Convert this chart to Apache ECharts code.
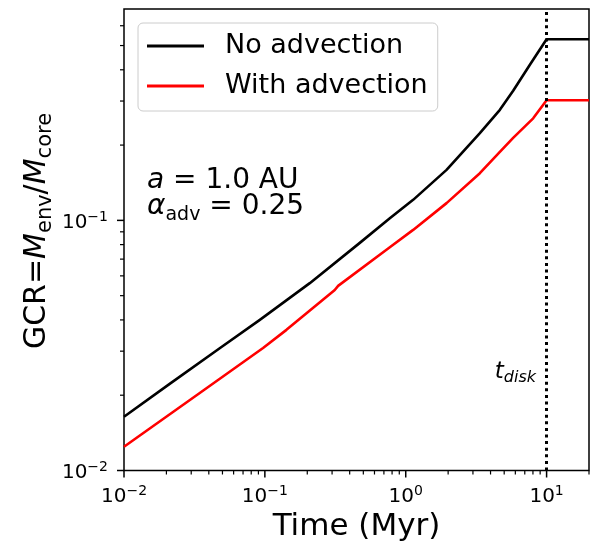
<!DOCTYPE html>
<html><head><meta charset="utf-8">
<script src="https://cdn.jsdelivr.net/npm/echarts@6/dist/echarts.min.js"></script>
<style>html,body{margin:0;padding:0;background:#fff}#c{width:603px;height:554px}</style>
</head><body><div id="c"></div>
<script>
// ---- data ----
const seriesNames = ['No advection', 'With advection'];
const timeNoAdv = [0.01, 0.0211, 0.0478, 0.0921, 0.2084, 0.472, 0.771, 1.129, 1.949, 3.36, 4.66, 5.79, 7.61, 10, 20];
const gcrNoAdv  = [0.0164, 0.0222, 0.0308, 0.0400, 0.0561, 0.0813, 0.102, 0.1208, 0.1592, 0.2233, 0.2767, 0.3296, 0.4188, 0.530, 0.530];
const timeAdv = [0.01, 0.0345, 0.0971, 0.1423, 0.3135, 0.3311, 0.771, 1.129, 1.949, 3.36, 4.66, 5.79, 8.03, 10, 20];
const gcrAdv  = [0.01245, 0.0204, 0.0309, 0.0365, 0.0527, 0.0547, 0.0781, 0.0916, 0.1172, 0.1544, 0.1880, 0.2138, 0.2559, 0.302, 0.302];
const tDisk = 10;
const xRange = [0.01, 20];
const yRange = [0.01, 0.7];
const xMajorTicks = [0.01, 0.1, 1, 10];
const xMinorTicks = [0.02,0.03,0.04,0.05,0.06,0.07,0.08,0.09,0.2,0.3,0.4,0.5,0.6,0.7,0.8,0.9,2,3,4,5,6,7,8,9,20];
const yMajorTicks = [0.01, 0.1];
const yMinorTicks = [0.02,0.03,0.04,0.05,0.06,0.07,0.08,0.09,0.2,0.3,0.4,0.5,0.6];

const FONT = 'DejaVu Sans';
function pow10Label(v) {
  const l = Math.log10(v);
  const e = Math.round(l);
  if (Math.abs(l - e) > 1e-6) return '';
  return '{b|10}{s|' + (e < 0 ? '\u2212' : '') + Math.abs(e) + '}';
}
const tickRich = {
  b: {fontSize: 20, fontFamily: FONT, color: '#000', lineHeight: 25},
  s: {fontSize: 14, fontFamily: FONT, color: '#000', verticalAlign: 'top'}
};
function tickSeries(values, dir, len, w) {
  return {
    type: 'custom', silent: true, clip: false, z: 10,
    data: values.map(v => dir === 'x' ? [v, yRange[0]] : [xRange[0], v]),
    renderItem(params, api) {
      const p = api.coord([api.value(0), api.value(1)]);
      const shape = dir === 'x'
        ? {x1: p[0], y1: p[1], x2: p[0], y2: p[1] + len}
        : {x1: p[0], y1: p[1], x2: p[0] - len, y2: p[1]};
      return {type: 'line', shape, style: {stroke: '#000', lineWidth: w}};
    }
  };
}

const chart = echarts.init(document.getElementById('c'), null, {renderer: 'canvas'});
chart.setOption({
  animation: false,
  backgroundColor: '#fff',
  grid: {left: 124, right: 14, top: 9, bottom: 83.5, show: true, borderColor: '#000', borderWidth: 1.5,
         backgroundColor: 'transparent', outerBoundsMode: 'none', containLabel: false},
  xAxis: {
    type: 'log', logBase: 10, min: xRange[0], max: xRange[1],
    axisLine: {show: false}, axisTick: {show: false}, splitLine: {show: false}, minorTick: {show: false},
    axisLabel: {margin: 14, formatter: pow10Label, rich: tickRich, showMinLabel: true, showMaxLabel: true, hideOverlap: false},
    name: 'Time (Myr)', nameLocation: 'middle', nameGap: 33,
    nameTextStyle: {fontSize: 31, fontFamily: FONT, color: '#000'}
  },
  yAxis: {
    type: 'log', logBase: 10, min: yRange[0], max: yRange[1],
    axisLine: {show: false}, axisTick: {show: false}, splitLine: {show: false}, minorTick: {show: false},
    axisLabel: {margin: 16, padding: [5, 0, 0, 0], formatter: pow10Label, rich: tickRich, showMinLabel: true, showMaxLabel: true}
  },
  legend: {
    orient: 'vertical', left: 138, top: 23,
    data: seriesNames.map(n => ({name: n, icon: 'rect'})),
    itemWidth: 57, itemHeight: 3, itemGap: 10,
    padding: [8, 10, 10, 9],
    borderColor: '#cccccc', borderWidth: 1, borderRadius: 5, backgroundColor: 'rgba(255,255,255,0.8)',
    textStyle: {fontSize: 27, fontFamily: FONT, color: '#000', lineHeight: 30, padding: [0, 0, 0, 16]}
  },
  graphic: [
    {type: 'text', x: 37, y: 231, rotation: Math.PI / 2, z: 20,
     style: {
       text: '{n|GCR=}{i|M}{s|env}{n|/}{i|M}{s|core}', align: 'center', verticalAlign: 'middle',
       rich: {
         n: {fontSize: 30, fontFamily: FONT, color: '#000', lineHeight: 38},
         i: {fontSize: 30, fontFamily: FONT, fontStyle: 'italic', color: '#000', lineHeight: 38},
         s: {fontSize: 21, fontFamily: FONT, color: '#000', verticalAlign: 'bottom'}
       }
     }},
    {type: 'text', x: 147, y: 181, z: 20,
     style: {
       text: '{i|a}{n| = 1.0 AU}', align: 'left', verticalAlign: 'middle',
       rich: {
         n: {fontSize: 28, fontFamily: FONT, color: '#000', lineHeight: 34},
         i: {fontSize: 28, fontFamily: FONT, fontStyle: 'italic', color: '#000', lineHeight: 34}
       }
     }},
    {type: 'text', x: 147, y: 207, z: 20,
     style: {
       text: '{i|\u03b1}{s|adv}{n| = 0.25}', align: 'left', verticalAlign: 'middle',
       rich: {
         n: {fontSize: 28, fontFamily: FONT, color: '#000', lineHeight: 35},
         i: {fontSize: 28, fontFamily: FONT, fontStyle: 'italic', color: '#000', lineHeight: 35},
         s: {fontSize: 19, fontFamily: FONT, color: '#000', verticalAlign: 'bottom'}
       }
     }},
    {type: 'text', x: 536, y: 372, z: 20,
     style: {
       text: '{i|t}{s|disk}', align: 'right', verticalAlign: 'middle',
       rich: {
         i: {fontSize: 23, fontFamily: FONT, fontStyle: 'italic', color: '#000', lineHeight: 28},
         s: {fontSize: 16, fontFamily: FONT, fontStyle: 'italic', color: '#000', verticalAlign: 'bottom'}
       }
     }}
  ],
  series: [
    {
      name: seriesNames[0], type: 'line', showSymbol: false, symbol: 'none', z: 3,
      color: '#000', lineStyle: {color: '#000', width: 2.6, join: 'round'},
      data: timeNoAdv.map((t, i) => [t, gcrNoAdv[i]]),
      markLine: {
        silent: true, symbol: 'none', label: {show: false},
        lineStyle: {color: '#000', width: 3, type: [3, 3.6]},
        data: [{xAxis: tDisk}]
      }
    },
    {
      name: seriesNames[1], type: 'line', showSymbol: false, symbol: 'none', z: 3,
      color: '#ff0000', lineStyle: {color: '#ff0000', width: 2.6, join: 'round'},
      data: timeAdv.map((t, i) => [t, gcrAdv[i]])
    },
    tickSeries(xMajorTicks, 'x', 7, 1.5),
    tickSeries(xMinorTicks, 'x', 4, 1.2),
    tickSeries(yMajorTicks, 'y', 7, 1.5),
    tickSeries(yMinorTicks, 'y', 4, 1.2)
  ]
});
</script>
</body></html>
